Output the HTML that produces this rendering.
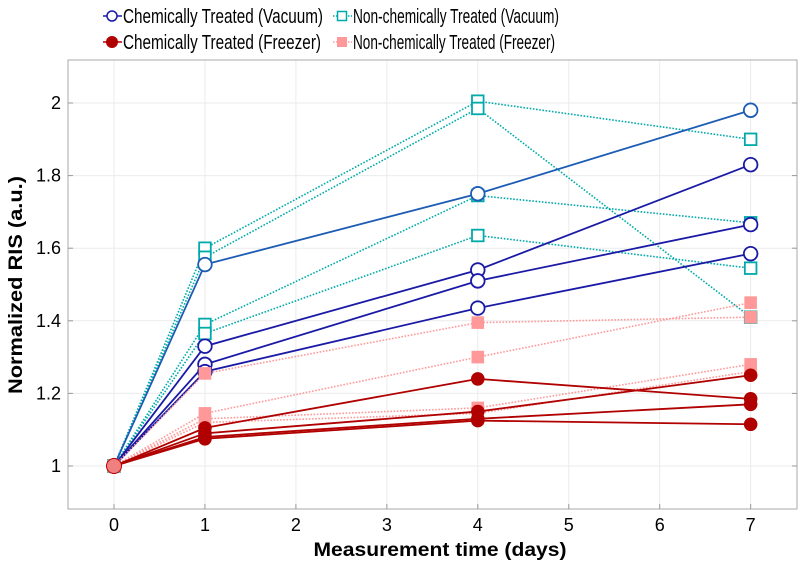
<!DOCTYPE html>
<html><head><meta charset="utf-8"><style>
body{margin:0;background:#fff;}
svg{display:block;font-family:"Liberation Sans",sans-serif;}
</style></head><body>
<svg id="chart" width="802" height="566" viewBox="0 0 802 566" xmlns="http://www.w3.org/2000/svg">
<g id="grid"></g>
<rect x="68" y="60" width="729" height="449" fill="none" stroke="#aaa" stroke-width="1"/>
<g id="ticks"></g>
<g id="series"></g>
<text x="440" y="556" text-anchor="middle" font-size="19" font-weight="bold" textLength="253" lengthAdjust="spacingAndGlyphs">Measurement time (days)</text>
<text transform="translate(22,285) rotate(-90)" text-anchor="middle" font-size="19" font-weight="bold" textLength="218" lengthAdjust="spacingAndGlyphs">Normalized RIS (a.u.)</text>
<g>
 <g>
  <line x1="103" y1="16" x2="122" y2="16" stroke="#1a1aa6" stroke-width="1.5"/>
  <circle cx="112" cy="16" r="5" fill="#fff" stroke="#1a1aa6" stroke-width="1.5"/>
  <text x="123" y="23" font-size="20" textLength="200" lengthAdjust="spacingAndGlyphs">Chemically Treated (Vacuum)</text>
 </g>
 <g>
  <line x1="333" y1="16" x2="352" y2="16" stroke="#00aaaa" stroke-width="1.5" stroke-dasharray="1.5,1.5"/>
  <rect x="337.5" y="11.5" width="9" height="9" fill="#fff" stroke="#00aaaa" stroke-width="1.5"/>
  <text x="353" y="23" font-size="20" textLength="206" lengthAdjust="spacingAndGlyphs">Non-chemically Treated (Vacuum)</text>
 </g>
 <g>
  <line x1="103" y1="42" x2="122" y2="42" stroke="#b00000" stroke-width="1.5"/>
  <circle cx="112" cy="42" r="6" fill="#b00000"/>
  <text x="123" y="49" font-size="20" textLength="198" lengthAdjust="spacingAndGlyphs">Chemically Treated (Freezer)</text>
 </g>
 <g>
  <line x1="333" y1="42" x2="352" y2="42" stroke="#ff9999" stroke-width="1.5" stroke-dasharray="1.5,1.5"/>
  <rect x="337" y="37" width="10" height="10" fill="#ff9999"/>
  <text x="353" y="49" font-size="20" textLength="202" lengthAdjust="spacingAndGlyphs">Non-chemically Treated (Freezer)</text>
 </g>
</g>
</svg>
<script>
const days = [0, 1, 4, 7];
const xTicks = [0, 1, 2, 3, 4, 5, 6, 7];
const yTicks = [1, 1.2, 1.4, 1.6, 1.8, 2];
const yTickLabels = ["1", "1.2", "1.4", "1.6", "1.8", "2"];
const chemVacuum = [
  [1, 1.555, 1.75, 1.98],
  [1, 1.33, 1.54, 1.83],
  [1, 1.28, 1.51, 1.665],
  [1, 1.26, 1.435, 1.585]
];
const nonChemVacuum = [
  [1, 1.60, 2.005, 1.90],
  [1, 1.575, 1.985, 1.41],
  [1, 1.39, 1.745, 1.67],
  [1, 1.365, 1.635, 1.545]
];
const chemFreezer = [
  [1, 1.105, 1.24, 1.185],
  [1, 1.09, 1.15, 1.25],
  [1, 1.08, 1.13, 1.17],
  [1, 1.075, 1.125, 1.115]
];
const nonChemFreezer = [
  [1, 1.255, 1.395, 1.41],
  [1, 1.145, 1.30, 1.45],
  [1, 1.13, 1.16, 1.28],
  [1, 1.12, 1.145, 1.26]
];
const NS = "http://www.w3.org/2000/svg";
function xs(d){ return 114 + d * 90.95; }
function ys(v){ return 466 - (v - 1) * 363; }
function mk(tag, attrs, parent){
  const e = document.createElementNS(NS, tag);
  for (const k in attrs) e.setAttribute(k, attrs[k]);
  parent.appendChild(e); return e;
}
const grid = document.getElementById('grid');
const ticks = document.getElementById('ticks');
xTicks.forEach(t => {
  const l = mk('line', {x1: xs(t), x2: xs(t), y1: 60, y2: 509, stroke: '#ebebeb', 'stroke-width': 1}, grid);
  
  
  const tk = mk('line', {x1: xs(t), x2: xs(t), y1: 509, y2: 504, stroke: '#999'}, ticks);
  
  
  const tx = mk('text', {x: xs(t), y: 531, 'text-anchor': 'middle', 'font-size': 18}, ticks);
  
  
  tx.textContent = String(t);
});
yTicks.forEach((t, i) => {
  const l = mk('line', {x1: 68, x2: 797, y1: ys(t), y2: ys(t), stroke: '#ebebeb', 'stroke-width': 1}, grid);
  
  
  const tk = mk('line', {x1: 68, x2: 73, y1: ys(t), y2: ys(t), stroke: '#999'}, ticks);
  
  
  const tk2 = mk('line', {x1: 792, x2: 797, y1: ys(t), y2: ys(t), stroke: '#999'}, ticks);
  
  
  const tx = mk('text', {x: 61, y: ys(t) + 6, 'text-anchor': 'end', 'font-size': 18}, ticks);
  
  
  tx.textContent = yTickLabels[i];
});
const series = document.getElementById('series');
function draw(group, name, color, dashed, marker, colors){
  group.forEach((vals, si) => {
    const c = colors ? colors[si] : color;
    const g = mk('g', {}, series);
    
    
    const pts = vals.map((v, i) => xs(days[i]) + ',' + ys(v)).join(' ');
    const pl = mk('polyline', {points: pts, fill: 'none', stroke: c, 'stroke-width': dashed ? 1.6 : 1.8}, g);
    if (dashed) pl.setAttribute('stroke-dasharray', '1.6,1.6');
    
    
    vals.forEach((v, i) => {
      let m;
      if (marker === 'oc') m = mk('circle', {cx: xs(days[i]), cy: ys(v), r: 6.8, fill: '#fff', stroke: c, 'stroke-width': 1.8}, g);
      else if (marker === 'fc') m = mk('circle', {cx: xs(days[i]), cy: ys(v), r: 6.8, fill: c}, g);
      else if (marker === 'os') m = mk('rect', {x: xs(days[i]) - 5.8, y: ys(v) - 5.8, width: 11.6, height: 11.6, fill: '#fff', stroke: c, 'stroke-width': 1.8}, g);
      else m = mk('rect', {x: xs(days[i]) - 6.3, y: ys(v) - 6.3, width: 12.6, height: 12.6, fill: c}, g);
      
      
    });
  });
}
draw(nonChemVacuum, 'nonchem-vacuum', '#00aaaa', true, 'os');
draw(chemVacuum, 'chem-vacuum', '#1a1aa6', false, 'oc', ['#1c5cb4', '#1a1aa6', '#1a1aa6', '#1a1aa6']);
draw(nonChemFreezer, 'nonchem-freezer', '#ff9999', true, 'fs');
draw(chemFreezer, 'chem-freezer', '#b00000', false, 'fc');
const z = mk('circle', {cx: xs(0), cy: ys(1), r: 7.5, fill: '#f08080', stroke: '#c00000', 'stroke-width': 1}, series);


</script>
</body></html>
